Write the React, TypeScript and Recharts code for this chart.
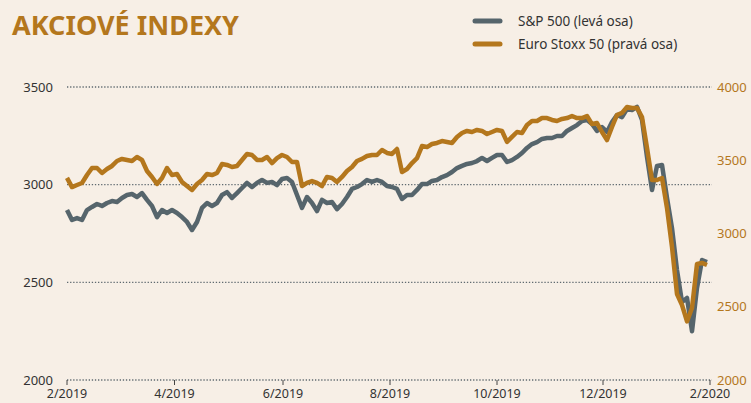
import { LineChart, Line, XAxis, YAxis, CartesianGrid } from "recharts";

// Sampled every ~5 px along the time axis, 2/2019 .. 2/2020
const SP500 = [
  2870, 2819, 2829, 2819, 2870, 2886, 2901, 2891, 2906, 2916,
  2911, 2932, 2947, 2952, 2937, 2957, 2922, 2891, 2834, 2870,
  2855, 2870, 2855, 2834, 2809, 2768, 2809, 2881, 2906, 2891,
  2906, 2947, 2962, 2932, 2957, 2983, 3009, 2988, 3009, 3024,
  3009, 3014, 2998, 3029, 3034, 3014, 2947, 2881, 2937, 2906,
  2865, 2922, 2906, 2911, 2875, 2901, 2937, 2978, 2988, 3003,
  3024, 3014, 3024, 3014, 2993, 2988, 2978, 2927, 2947, 2947,
  2973, 3003, 3003, 3019, 3024, 3039, 3049, 3065, 3085, 3096,
  3106, 3111, 3121, 3137, 3121, 3137, 3152, 3152, 3116, 3126,
  3142, 3162, 3188, 3208, 3218, 3234, 3239, 3239, 3249, 3249,
  3275, 3290, 3305, 3326, 3331, 3311, 3275, 3295, 3270, 3321,
  3357, 3346, 3387, 3382, 3398, 3331, 3142, 2973, 3096, 3101,
  2932, 2778, 2563, 2399, 2420, 2250, 2471, 2614, 2604,
];

const STOXX50 = [
  3380, 3317, 3331, 3345, 3399, 3447, 3447, 3413, 3440, 3461,
  3495, 3509, 3502, 3495, 3522, 3502, 3427, 3386, 3338, 3379,
  3447, 3399, 3406, 3352, 3324, 3297, 3338, 3365, 3406, 3399,
  3413, 3474, 3468, 3454, 3461, 3502, 3543, 3536, 3502, 3502,
  3522, 3481, 3515, 3536, 3522, 3488, 3488, 3324, 3345, 3358,
  3345, 3324, 3386, 3379, 3352, 3386, 3427, 3454, 3495, 3509,
  3529, 3536, 3536, 3570, 3550, 3543, 3577, 3420, 3440, 3481,
  3515, 3597, 3590, 3611, 3618, 3631, 3625, 3618, 3659, 3686,
  3700, 3693, 3707, 3700, 3679, 3693, 3707, 3700, 3625, 3659,
  3693, 3686, 3741, 3768, 3768, 3788, 3788, 3775, 3768, 3782,
  3788, 3802, 3788, 3788, 3802, 3747, 3754, 3693, 3638, 3727,
  3809, 3823, 3863, 3857, 3857, 3795, 3584, 3365, 3365, 3379,
  3174, 2908, 2587, 2512, 2400, 2491, 2792, 2799, 2785,
];

// month ticks, in sample units
const MONTH_POS = [0, 21.5, 43.2, 64.6, 86, 107.2, 128.6];
const MONTH_LABELS = ["2/2019", "4/2019", "6/2019", "8/2019", "10/2019", "12/2019", "2/2020"];

const LEFT_TICKS = [2000, 2500, 3000, 3500];
const RIGHT_TICKS = [2000, 2500, 3000, 3500, 4000];

const GRAY = "#56656c";
const ORANGE = "#b4771d";
const FONT = "'Noto Sans', 'Open Sans', sans-serif";

const data = SP500.map((v, i) => ({ i, sp: v, stoxx: STOXX50[i] }));

export default function App() {
  return (
    <div style={{ position: "relative", width: 751, height: 403, background: "#f7efe6", fontFamily: FONT }}>
      <style>{`body{margin:0}`}</style>
      <LineChart width={751} height={403} data={data} margin={{ top: 87, right: 0, bottom: 0, left: 0 }}>
        <CartesianGrid
          yAxisId="left"
          vertical={false}
          stroke="#5f6a70"
          strokeWidth={1.3}
          strokeDasharray="1.3 1.8"
        />
        <XAxis
          dataKey="i"
          type="number"
          domain={[0, 129]}
          ticks={MONTH_POS}
          tickFormatter={(v: number) => MONTH_LABELS[MONTH_POS.indexOf(v)]}
          axisLine={false}
          tickLine={{ stroke: "#444" }}
          tickSize={5}
          tickMargin={4}
          height={23}
          interval={0}
          tick={{ fill: "#333", fontSize: 12.5, fontFamily: FONT }}
        />
        <YAxis
          yAxisId="left"
          domain={[2000, 3500]}
          ticks={LEFT_TICKS}
          width={67}
          axisLine={false}
          tickLine={false}
          tickSize={0}
          tickMargin={14}
          tick={{ fill: "#333", fontSize: 13, fontFamily: FONT }}
        />
        <YAxis
          yAxisId="right"
          orientation="right"
          domain={[2000, 4000]}
          ticks={RIGHT_TICKS}
          width={39}
          axisLine={false}
          tickLine={false}
          tickSize={0}
          tickMargin={5}
          tick={{ fill: ORANGE, fontSize: 13, fontFamily: FONT, textAnchor: "start" }}
        />
        <Line
          yAxisId="left"
          dataKey="sp"
          type="linear"
          stroke={GRAY}
          strokeWidth={4.5}
          strokeLinejoin="round"
          dot={false}
          isAnimationActive={false}
        />
        <Line
          yAxisId="right"
          dataKey="stoxx"
          type="linear"
          stroke={ORANGE}
          strokeWidth={4.5}
          strokeLinejoin="round"
          dot={false}
          isAnimationActive={false}
        />
      </LineChart>
      <svg width={751} height={60} style={{ position: "absolute", left: 0, top: 0 }}>
        <text x={12} y={35} fontSize={27} fontWeight={700} fill={ORANGE} fontFamily={FONT}>
          AKCIOVÉ INDEXY
        </text>
        <line x1={475} x2={500} y1={21} y2={21} stroke={GRAY} strokeWidth={5} strokeLinecap="round" />
        <text x={518} y={25.5} fontSize={13.5} fill="#333" fontFamily={FONT}>
          S&amp;P 500 (levá osa)
        </text>
        <line x1={475} x2={500} y1={44} y2={44} stroke={ORANGE} strokeWidth={5} strokeLinecap="round" />
        <text x={518} y={48.5} fontSize={13.5} fill="#333" fontFamily={FONT}>
          Euro Stoxx 50 (pravá osa)
        </text>
      </svg>
    </div>
  );
}
